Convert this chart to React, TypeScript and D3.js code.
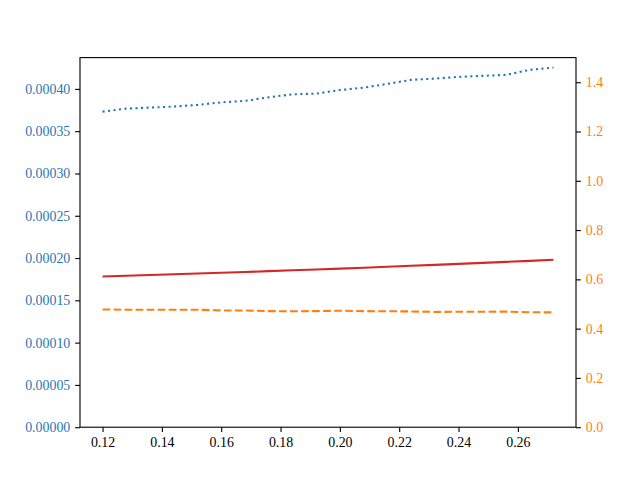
import React, { useEffect, useRef } from "react";
import * as d3 from "d3";

// x values (step 0.008)
const xValues = [
  0.12, 0.128, 0.136, 0.144, 0.152, 0.16, 0.168, 0.176, 0.184, 0.192,
  0.2, 0.208, 0.216, 0.224, 0.232, 0.24, 0.248, 0.256, 0.264, 0.272,
];

// left axis series
const blueValues = [
  0.0003731, 0.0003767, 0.0003779, 0.0003791, 0.0003811, 0.0003841, 0.0003858,
  0.0003901, 0.0003936, 0.0003944, 0.0003986, 0.0004015, 0.0004059, 0.0004107,
  0.0004122, 0.0004142, 0.0004154, 0.0004166, 0.0004225, 0.0004252,
];
const redValues = [
  0.0001782, 0.000179, 0.0001799, 0.0001808, 0.0001817, 0.0001826, 0.0001835,
  0.0001845, 0.0001855, 0.0001865, 0.0001875, 0.0001886, 0.0001897, 0.0001908,
  0.0001919, 0.0001931, 0.0001943, 0.0001955, 0.0001967, 0.000198,
];

// right axis series
const orangeValues = [
  0.478, 0.4766, 0.4766, 0.4766, 0.4766, 0.4739, 0.4739, 0.4712, 0.4705, 0.4712,
  0.4726, 0.4712, 0.4705, 0.4699, 0.4678, 0.4685, 0.4685, 0.4692, 0.4665, 0.4658,
];

const xTicks = [0.12, 0.14, 0.16, 0.18, 0.2, 0.22, 0.24, 0.26];
const leftTicks = [0, 0.00005, 0.0001, 0.00015, 0.0002, 0.00025, 0.0003, 0.00035, 0.0004];
const rightTicks = [0, 0.2, 0.4, 0.6, 0.8, 1.0, 1.2, 1.4];

const W = 640;
const H = 480;
const FONT = "'Liberation Serif', 'DejaVu Serif', serif";

const App = () => {
  const svgRef = useRef<SVGSVGElement>(null);

  useEffect(() => {
    const svg = d3.select(svgRef.current);
    svg.selectAll("*").remove();

    const left = 80, right = 576, top = 57.6, bottom = 427.2;

    const xScale = d3.scaleLinear().domain([0.1124, 0.2796]).range([left, right]);
    const yLeft = d3.scaleLinear().domain([0, 0.000437]).range([bottom, top]);
    const yRight = d3.scaleLinear().domain([0, 1.5]).range([bottom, top]);

    const makeLine = (yScale) =>
      d3
        .line<number>()
        .x((d, i) => xScale(xValues[i]))
        .y((d) => yScale(d));

    const plot = svg.append("g");
    plot
      .append("path")
      .datum(blueValues)
      .attr("d", makeLine(yLeft))
      .attr("fill", "none")
      .attr("stroke", "#1f77b4")
      .attr("stroke-width", 2.08)
      .attr("stroke-dasharray", "2.08,3.44");
    plot
      .append("path")
      .datum(redValues)
      .attr("d", makeLine(yLeft))
      .attr("fill", "none")
      .attr("stroke", "#d62728")
      .attr("stroke-width", 2.08);
    plot
      .append("path")
      .datum(orangeValues)
      .attr("d", makeLine(yRight))
      .attr("fill", "none")
      .attr("stroke", "#ff7f0e")
      .attr("stroke-width", 2.08)
      .attr("stroke-dasharray", "7.7,3.33");

    const fontSize = "13.9px";

    // bottom axis
    svg
      .append("g")
      .attr("transform", `translate(0,${bottom})`)
      .call(
        d3.axisBottom(xScale).tickValues(xTicks).tickFormat(d3.format(".2f")).tickSize(4.86).tickPadding(4.86)
      )
      .call((g) => g.select(".domain").remove())
      .call((g) => g.selectAll("line").attr("stroke", "#000").attr("stroke-width", 1.11))
      .call((g) =>
        g.selectAll("text").attr("fill", "#000").style("font-family", FONT).style("font-size", fontSize)
      );

    // left axis
    svg
      .append("g")
      .attr("transform", `translate(${left},0)`)
      .call(
        d3.axisLeft(yLeft).tickValues(leftTicks).tickFormat(d3.format(".5f")).tickSize(4.86).tickPadding(4.86)
      )
      .call((g) => g.select(".domain").remove())
      .call((g) => g.selectAll("line").attr("stroke", "#000").attr("stroke-width", 1.11))
      .call((g) =>
        g.selectAll("text").attr("fill", "#1f77b4").style("font-family", FONT).style("font-size", fontSize)
      );

    // right axis
    svg
      .append("g")
      .attr("transform", `translate(${right},0)`)
      .call(
        d3.axisRight(yRight).tickValues(rightTicks).tickFormat(d3.format(".1f")).tickSize(4.86).tickPadding(4.86)
      )
      .call((g) => g.select(".domain").remove())
      .call((g) => g.selectAll("line").attr("stroke", "#000").attr("stroke-width", 1.11))
      .call((g) =>
        g.selectAll("text").attr("fill", "#ff7f0e").style("font-family", FONT).style("font-size", fontSize)
      );

    // frame
    svg
      .append("rect")
      .attr("x", left)
      .attr("y", top)
      .attr("width", right - left)
      .attr("height", bottom - top)
      .attr("fill", "none")
      .attr("stroke", "#000")
      .attr("stroke-width", 1.11);
  }, []);

  return (
    <svg
      ref={svgRef}
      width={W}
      height={H}
      style={{ position: "absolute", left: 0, top: 0, background: "#fff" }}
    />
  );
};

export default App;
